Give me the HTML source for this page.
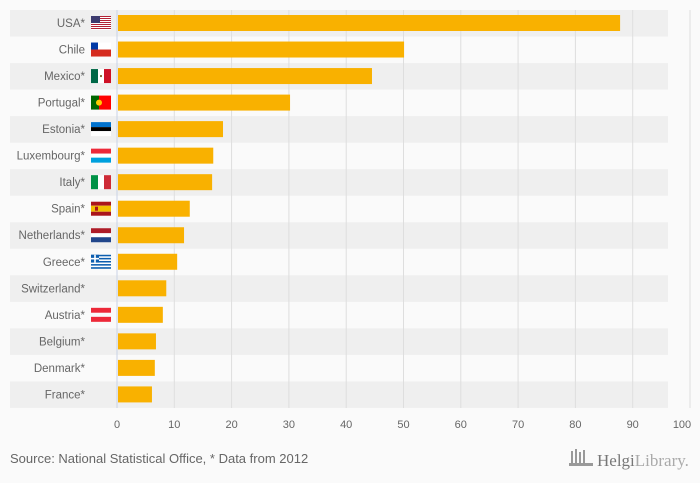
<!DOCTYPE html>
<html><head><meta charset="utf-8"><style>
body{margin:0;background:#fafafa;font-family:"Liberation Sans",sans-serif;}
svg{display:block}
text{font-family:"Liberation Sans",sans-serif;fill:#666}
</style></head><body>
<svg id="chart" width="700" height="483">
<g id="bands"></g><g id="grid"></g><g id="bars"></g><g id="labels"></g><g id="flags"></g><g id="ticks"></g>
<line x1="117" y1="10" x2="117" y2="408" stroke="#c9d3e6" stroke-width="1"/>
<text x="10" y="463" font-size="13">Source: National Statistical Office, * Data from 2012</text>
<g>
<rect x="571" y="451" width="2" height="12" fill="#999"/><rect x="575" y="449" width="2" height="14" fill="#999"/><rect x="579" y="452" width="2" height="11" fill="#999"/><rect x="583" y="450" width="2" height="13" fill="#999"/><rect x="569" y="463" width="24" height="3" fill="#999"/>
<text x="597" y="466" font-size="17" style="font-family:'Liberation Serif',serif;fill:#777">Helgi<tspan style="fill:#aaa">Library.</tspan></text>
</g>
</svg>
<script>
const categories=["USA*","Chile","Mexico*","Portugal*","Estonia*","Luxembourg*","Italy*","Spain*","Netherlands*","Greece*","Switzerland*","Austria*","Belgium*","Denmark*","France*"];
const values=[87.8,50.1,44.5,30.2,18.5,16.8,16.6,12.7,11.7,10.5,8.6,8.0,6.8,6.6,6.1];
const tickLabels=[0,10,20,30,40,50,60,70,80,90,100];
const flagCodes=["us","cl","mx","pt","ee","lu","it","es","nl","gr","","at","","",""];
const NS="http://www.w3.org/2000/svg";
const x0=117,x1=690,yTop=10,rowH=26.53;
const xs=v=>x0+(x1-x0)*v/100;
const yr=i=>yTop+i*rowH;
function mk(t,a,p){const e=document.createElementNS(NS,t);for(const k in a)e.setAttribute(k,a[k]);p.appendChild(e);return e;}
const bands=document.getElementById('bands'),grid=document.getElementById('grid'),bars=document.getElementById('bars'),labels=document.getElementById('labels'),flags=document.getElementById('flags'),ticks=document.getElementById('ticks');
categories.forEach((c,i)=>{
 if(i%2==0){const b=mk('rect',{x:10,y:yr(i),width:658,height:rowH,fill:'#efefef'},bands);
 
 }
});
tickLabels.forEach((t,k)=>{
 if(t>0){const l=mk('line',{x1:xs(t),x2:xs(t),y1:yTop,y2:408,stroke:'#dedede'},grid);
 
 }
 const last=k===tickLabels.length-1;
 const tx=mk('text',{x:xs(t)-(last?8:0),y:428,'font-size':11,'text-anchor':'middle'},ticks);tx.textContent=t;
 
 
});
function flag(code,g,x,y){const w=20,h=14;
 const R=(a,b,c,d,f)=>mk('rect',{x:x+a,y:y+b,width:c,height:d,fill:f},g);
 if(code=='us'){R(0,0,w,h,'#fff');for(let k=0;k<7;k++)R(0,k*2,w,1,'#b22234');R(0,0,9,7,'#3c3b6e');}
 if(code=='cl'){R(0,0,w,7,'#fff');R(0,7,w,7,'#d52b1e');R(0,0,7,7,'#0039a6');}
 if(code=='mx'){R(0,0,7,h,'#006847');R(7,0,6,h,'#fff');R(13,0,7,h,'#ce1126');R(9,6,2,2,'#8a6d3b');}
 if(code=='pt'){R(0,0,8,h,'#006600');R(8,0,12,h,'#ff0000');mk('circle',{cx:x+8,cy:y+7,r:3,fill:'#ffcc00'},g);}
 if(code=='ee'){R(0,0,w,5,'#0072ce');R(0,5,w,4,'#000');R(0,9,w,5,'#fff');}
 if(code=='lu'){R(0,0,w,5,'#ed2939');R(0,5,w,4,'#fff');R(0,9,w,5,'#00a1de');}
 if(code=='it'){R(0,0,7,h,'#009246');R(7,0,6,h,'#fff');R(13,0,7,h,'#ce2b37');}
 if(code=='es'){R(0,0,w,4,'#aa151b');R(0,4,w,6,'#f1bf00');R(0,10,w,4,'#aa151b');R(4,5,3,4,'#aa151b');}
 if(code=='nl'){R(0,0,w,5,'#ae1c28');R(0,5,w,4,'#fff');R(0,9,w,5,'#21468b');}
 if(code=='gr'){R(0,0,w,h,'#0d5eaf');for(let k=1;k<9;k+=2)R(0,k*1.55,w,1.55,'#fff');R(0,0,8,7.8,'#0d5eaf');R(3.2,0,1.6,7.8,'#fff');R(0,3.1,8,1.6,'#fff');}
 if(code=='at'){R(0,0,w,5,'#ed2939');R(0,5,w,4,'#fafafa');R(0,9,w,5,'#ed2939');}
}
values.forEach((v,i)=>{
 const y=yr(i);
 const b=mk('rect',{x:x0+1,y:y+5,width:xs(v)-x0-1,height:16,fill:'#f9b100'},bars);
 
 
 const t=mk('text',{x:85,y:y+17,'font-size':11.5,'text-anchor':'end'},labels);t.textContent=categories[i];
 
 
 if(flagCodes[i]){const g=mk('g',{},flags);
 
 
 flag(flagCodes[i],g,91,y+6);}
});
</script>
</body></html>
